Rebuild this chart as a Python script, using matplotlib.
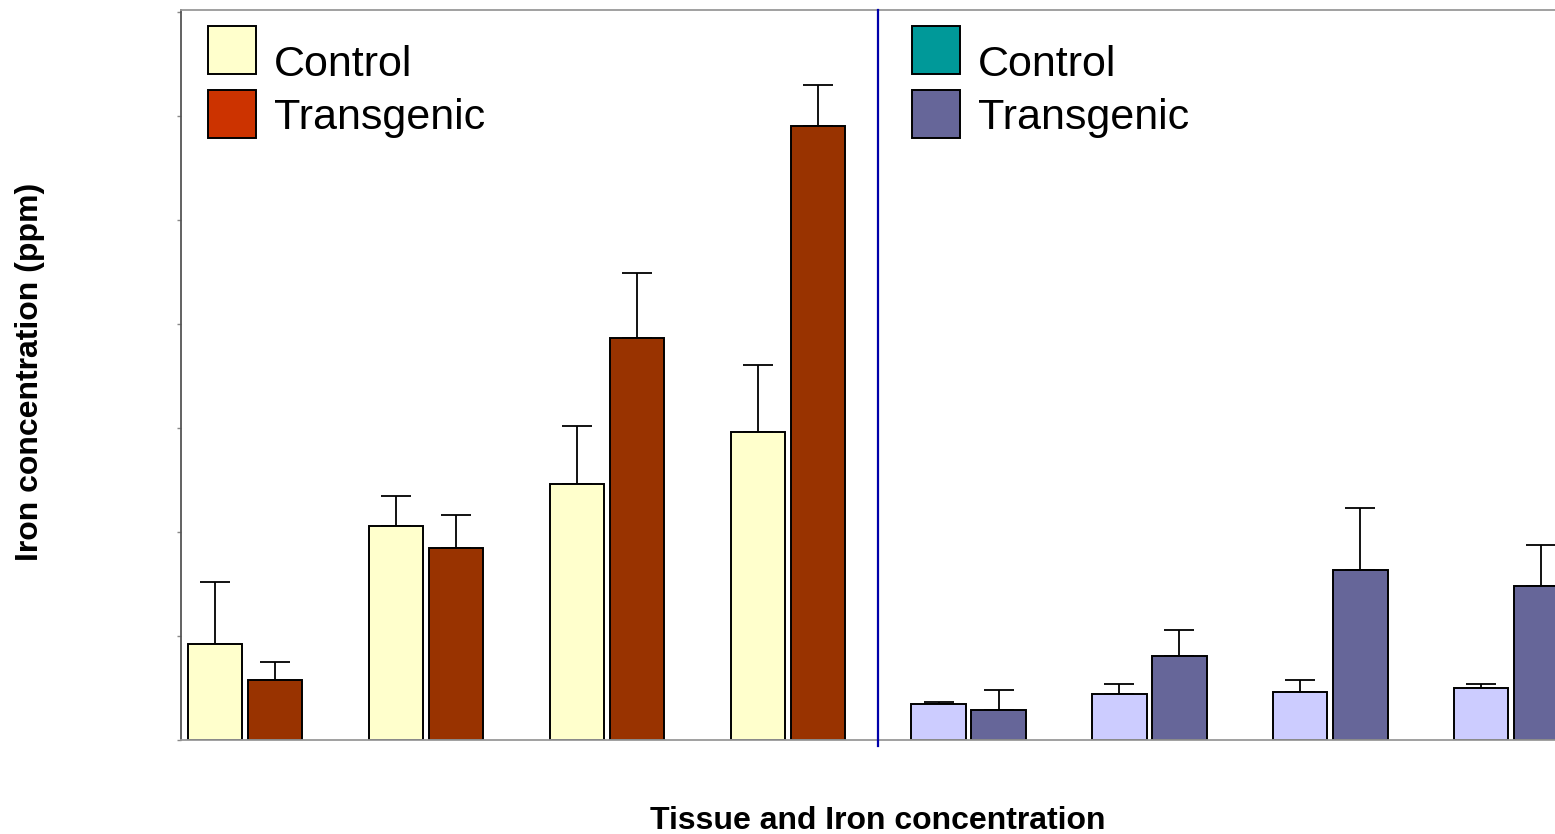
import numpy as np
import matplotlib.pyplot as plt
from matplotlib.patches import Rectangle

plt.rcParams['font.family'] = ['Liberation Sans', 'DejaVu Sans']

# iron (ppm); left block = first treatment, right block = second
ctrl_left = [9.2, 20.6, 24.6, 29.6]
ctrl_left_err = [6.0, 2.9, 5.6, 6.5]
trans_left = [5.8, 18.5, 38.7, 59.0]
trans_left_err = [1.7, 3.1, 6.2, 4.0]

ctrl_right = [3.5, 4.4, 4.6, 5.0]
ctrl_right_err = [0.2, 1.0, 1.2, 0.4]
trans_right = [2.9, 8.1, 16.3, 14.8]
trans_right_err = [1.9, 2.5, 6.0, 4.0]

legend_labels = ["Control", "Transgenic"]
legend_left_cols = ["#FFFFCC", "#CC3300"]
legend_right_cols = ["#009999", "#666699"]

W, H = 1555, 834
fig = plt.figure(figsize=(W / 100, H / 100), dpi=100)
ax_l, ax_b, ax_w, ax_h = 181, 94, 1374, 730
ax = fig.add_axes([ax_l / W, ax_b / H, ax_w / W, ax_h / H])

ctrl = ctrl_left + ctrl_right
ctrl_err = ctrl_left_err + ctrl_right_err
trans = trans_left + trans_right
trans_err = trans_left_err + trans_right_err
n_left = len(ctrl_left)
x = np.arange(len(ctrl))
w = 0.3
off = 0.166

ctrl_col = ["#FFFFCC"] * n_left + ["#CCCCFF"] * len(ctrl_right)
trans_col = ["#993300"] * n_left + ["#666699"] * len(trans_right)

ax.bar(x - off, ctrl, w, color=ctrl_col, edgecolor="black", linewidth=1.4, zorder=2)
ax.bar(x + off, trans, w, color=trans_col, edgecolor="black", linewidth=1.4, zorder=2)
ax.errorbar(x - off, ctrl, yerr=[np.zeros(len(ctrl)), ctrl_err], fmt="none",
            ecolor="black", elinewidth=1.3, capsize=11, capthick=1.3, zorder=1)
ax.errorbar(x + off, trans, yerr=[np.zeros(len(trans)), trans_err], fmt="none",
            ecolor="black", elinewidth=1.3, capsize=11, capthick=1.3, zorder=1)

# divider between the two blocks
mid = n_left - 0.5
ax.plot([mid, mid], [-0.58, 70.2], color="#0000AA", linewidth=1.6, clip_on=False, zorder=3)

ax.set_xlim(-0.354, 7.242)
ax.set_ylim(0, 70.2)
ax.set_yticks(np.arange(0, 71, 10))
ax.set_yticklabels([])
ax.set_xticks([])
ax.tick_params(axis="y", length=3, color="#888888", width=1)
ax.spines["right"].set_visible(False)
ax.spines["top"].set_color("#999999")
ax.spines["bottom"].set_color("#999999")
ax.spines["left"].set_color("#555555")
for s in ax.spines.values():
    s.set_linewidth(1.3)


# legends drawn by hand so the text sits like in the original (pixel layout -> axes fraction)
def px(xp, yp):
    return (xp - ax_l) / ax_w, (H - ax_b - yp) / ax_h


def draw_legend(x0, cols):
    box_tops = [26, 90]
    baselines = [76, 129]
    for col, lab, top, base in zip(cols, legend_labels, box_tops, baselines):
        bx, by = px(x0, top + 48)
        ax.add_patch(Rectangle((bx, by), 48 / ax_w, 48 / ax_h, transform=ax.transAxes,
                               facecolor=col, edgecolor="black", linewidth=1.4,
                               clip_on=False, zorder=4))
        tx, ty = px(x0 + 66, base)
        ax.text(tx, ty, lab, transform=ax.transAxes, fontsize=31,
                ha="left", va="baseline", zorder=4)


draw_legend(208, legend_left_cols)
draw_legend(912, legend_right_cols)

fig.text(30 / W, 462 / H, "Iron concentration (ppm)", rotation=90,
         ha="center", va="center", fontsize=23, fontweight="bold")
fig.text(878 / W, 13 / H, "Tissue and Iron concentration",
         ha="center", va="center", fontsize=23, fontweight="bold")

fig.savefig("out.png", dpi=100)
